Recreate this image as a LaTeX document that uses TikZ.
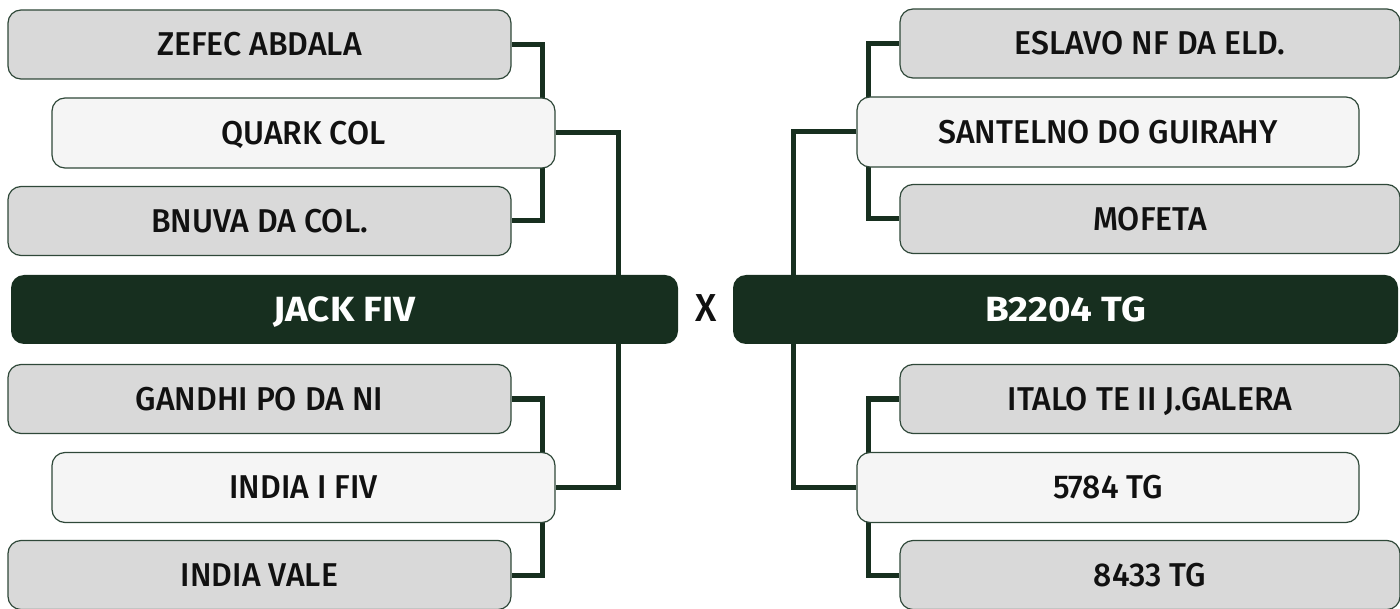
\documentclass[tikz,border=0pt]{standalone}
\usepackage{fontspec}
\setmainfont{Fira Sans}[UprightFont={* Medium}, BoldFont={* Bold}]
\newfontfamily\teamfont{Fira Sans Medium}[FakeStretch=0.97]
\newfontfamily\mainfont{Fira Sans Bold}[FakeStretch=1.1]
\usetikzlibrary{backgrounds}
\definecolor{boxgray}{RGB}{217,217,217}
\definecolor{boxlight}{RGB}{245,245,245}
\definecolor{maingreen}{RGB}{23,47,31}
\definecolor{edgegreen}{RGB}{47,72,57}
\definecolor{txt}{RGB}{17,17,17}
\tikzset{
  teambox/.style={draw=edgegreen, line width=1.2pt, rounded corners=13pt,
    minimum width=503pt, minimum height=69pt, inner sep=0pt,
    text height=22.7pt, text depth=0pt, text=txt,
    font=\teamfont\fontsize{33}{39}\selectfont},
  outerbox/.style={teambox, fill=boxgray},
  innerbox/.style={teambox, fill=boxlight, minimum height=70pt},
  mainbox/.style={draw=none, fill=maingreen, rounded corners=13pt,
    minimum width=667pt, minimum height=69pt, inner sep=0pt,
    text height=24pt, text depth=0pt, text=white,
    font=\mainfont\fontsize{35}{41}\selectfont},
  conn/.style={draw=maingreen, line width=5pt}
}
\begin{document}
\begin{tikzpicture}[x=1pt,y=-1pt]
\useasboundingbox (0,0) rectangle (1400,609);
% left side
\node[outerbox] (zefec) at (259.5,44.5) {ZEFEC ABDALA};
\node[innerbox] (quark) at (303.5,133) {QUARK COL};
\node[outerbox] (bnuva) at (259.5,221) {BNUVA DA COL.};
\node[mainbox] (jack) at (344.5,309.5) {JACK FIV};
\node[outerbox] (gandhi) at (259.5,399) {GANDHI PO DA NI};
\node[innerbox] (indiai) at (303.5,487.5) {INDIA I FIV};
\node[outerbox] (indiav) at (259.5,575) {INDIA VALE};
% right side
\node[outerbox, minimum width=500pt] (eslavo) at (1150,43.5) {ESLAVO NF DA ELD.};
\node[innerbox, minimum width=502pt] (santelno) at (1108,132) {SANTELNO DO GUIRAHY};
\node[outerbox, minimum width=500pt] (mofeta) at (1150,219) {MOFETA};
\node[mainbox, minimum width=665pt] (bmain) at (1065.5,309.5) {B2204 TG};
\node[outerbox, minimum width=500pt] (italo) at (1150,399) {ITALO TE II J.GALERA};
\node[innerbox, minimum width=502pt] (tg5784) at (1108,487.5) {5784 TG};
\node[outerbox, minimum width=500pt] (tg8433) at (1150,575) {8433 TG};
% versus
\node[text=txt, font=\teamfont\fontsize{39}{45}\selectfont, inner sep=0pt] (vs) at (706,308) {X};
% connectors
\begin{scope}[on background layer]
\draw[conn] (zefec.east) -- ++(31,0) |- (bnuva.east);
\draw[conn] (quark.east) -| ([xshift=-60pt]jack.north east);
\draw[conn] (gandhi.east) -- ++(31,0) |- (indiav.east);
\draw[conn] (indiai.east) -| ([xshift=-60pt]jack.south east);
\draw[conn] (eslavo.west) -- ++(-31,0) |- (mofeta.west);
\draw[conn] (santelno.west) -| ([xshift=61pt]bmain.north west);
\draw[conn] (italo.west) -- ++(-31,0) |- (tg8433.west);
\draw[conn] (tg5784.west) -| ([xshift=61pt]bmain.south west);
\end{scope}
\end{tikzpicture}
\end{document}
